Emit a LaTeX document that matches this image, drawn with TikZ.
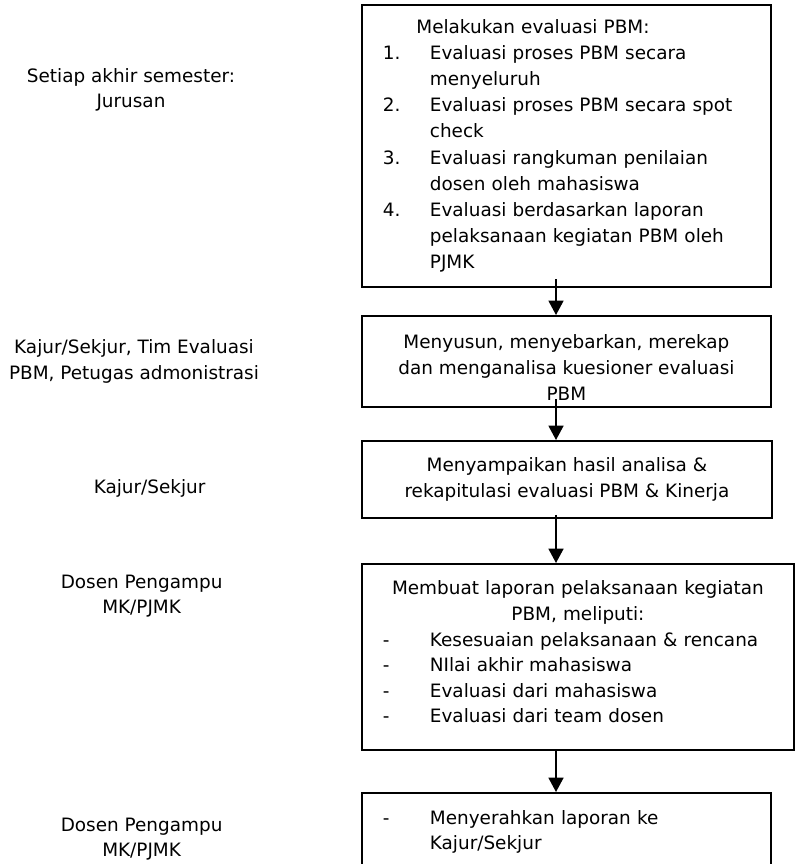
\documentclass[tikz,border=0pt]{standalone}
\usepackage{fontspec}
\setmainfont{DejaVu Sans}
\usetikzlibrary{arrows.meta}
\newcommand{\nomor}[1]{\makebox[1.175cm][l]{#1}}
\newcommand{\lanjut}{\hspace*{1.175cm}}

\begin{document}
\begin{tikzpicture}[
    font=\fontsize{13.1}{18.2}\selectfont,
    box/.style={draw, line width=1.3pt, inner xsep=0.525cm, inner ysep=0pt},
    flow/.style={-{Triangle[width=0.375cm,length=0.36cm]}, line width=1.2pt},
    lbl/.style={align=center}]
    \useasboundingbox (0,0) rectangle (19.85,-21.6);
    \coordinate (ax) at (13.9,0);
    % kolom kiri
    \node[lbl] (l1) at (3.275,-2.25) {Setiap akhir semester:\\Jurusan};
    \node[lbl] (l2) at (3.35,-9.04) {Kajur/Sekjur, Tim Evaluasi\\PBM, Petugas admonistrasi};
    \node[lbl] (l3) at (3.74,-12.2) {Kajur/Sekjur};
    \node[lbl] (l4) at (3.54,-14.9) {Dosen Pengampu\\MK/PJMK};
    \node[lbl] (l5) at (3.54,-20.98) {Dosen Pengampu\\MK/PJMK};
    % kotak kanan
    \node[box, anchor=north west, minimum width=10.225cm, minimum height=7.05cm,
          text width=9.175cm, align=left,
          font=\fontsize{13.1}{18.6}\selectfont] (b1) at (9.025,-0.1) {%
        \makebox[7.5cm][c]{Melakukan evaluasi PBM:}\\
        \nomor{1.}Evaluasi proses PBM secara\\
        \lanjut menyeluruh\\
        \nomor{2.}Evaluasi proses PBM secara spot\\
        \lanjut check\\
        \nomor{3.}Evaluasi rangkuman penilaian\\
        \lanjut dosen oleh mahasiswa\\
        \nomor{4.}Evaluasi berdasarkan laporan\\
        \lanjut pelaksanaan kegiatan PBM oleh\\
        \lanjut PJMK};
    \node[box, anchor=north west, minimum width=10.225cm, minimum height=2.275cm,
          align=center] (b2) at (9.025,-7.875) {%
        \rule{0pt}{0.65cm}Menyusun, menyebarkan, merekap\\
        dan menganalisa kuesioner evaluasi\\
        PBM};
    \node[box, anchor=north west, minimum width=10.25cm, minimum height=1.925cm,
          align=center] (b3) at (9.025,-11.0) {%
        Menyampaikan hasil analisa \&\\
        rekapitulasi evaluasi PBM \& Kinerja};
    \node[box, anchor=north west, minimum width=10.8cm, minimum height=4.65cm,
          text width=9.75cm, align=left] (b4) at (9.025,-14.075) {%
        \makebox[9.75cm][c]{Membuat laporan pelaksanaan kegiatan}\\
        \makebox[9.75cm][c]{PBM, meliputi:}\\
        \nomor{-}Kesesuaian pelaksanaan \& rencana\\
        \nomor{-}NIlai akhir mahasiswa\\
        \nomor{-}Evaluasi dari mahasiswa\\
        \nomor{-}Evaluasi dari team dosen\rule[-0.25cm]{0pt}{0pt}};
    \node[box, anchor=north west, minimum width=10.225cm, minimum height=1.95cm,
          text width=9.175cm, align=left] (b5) at (9.025,-19.8) {%
        \nomor{-}Menyerahkan laporan ke\\
        \lanjut Kajur/Sekjur};
    % panah
    \draw[flow, shorten <=-0.22cm] (b1.south -| ax) -- (b2.north -| ax);
    \draw[flow, shorten <=-0.22cm] (b2.south -| ax) -- (b3.north -| ax);
    \draw[flow, shorten <=-0.1cm] (b3.south -| ax) -- (b4.north -| ax);
    \draw[flow] (b4.south -| ax) -- (b5.north -| ax);
\end{tikzpicture}
\end{document}
